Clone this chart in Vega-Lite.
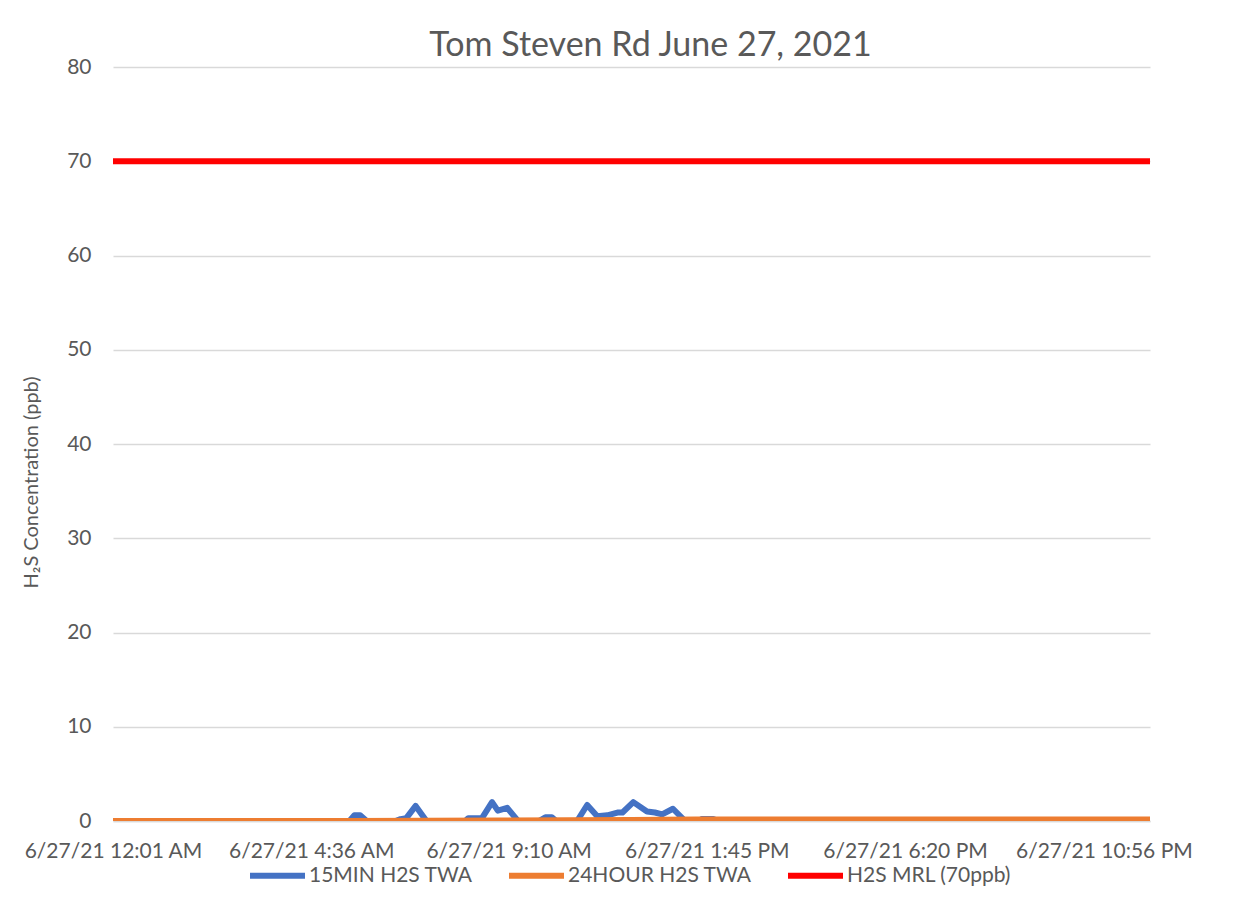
{
  "$schema": "https://vega.github.io/schema/vega-lite/v6.json",
  "autosize": "none",
  "width": 1037,
  "height": 754,
  "padding": {"left": 113, "top": 67, "right": 103, "bottom": 88},
  "background": "white",
  "title": {
    "text": "Tom Steven Rd June 27, 2021",
    "font": "Lato",
    "fontSize": 34,
    "fontWeight": "normal",
    "color": "#595959",
    "anchor": "middle",
    "baseline": "alphabetic",
    "offset": 10,
    "dx": 19,
    "dy": 44
  },
  "data": {
    "values": [
      {"t": "2021-06-27T00:01:00", "series": "15MIN H2S TWA", "v": 0},
      {"t": "2021-06-27T05:29:00", "series": "15MIN H2S TWA", "v": 0},
      {"t": "2021-06-27T05:36:00", "series": "15MIN H2S TWA", "v": 0.6},
      {"t": "2021-06-27T05:44:00", "series": "15MIN H2S TWA", "v": 0.6},
      {"t": "2021-06-27T05:53:00", "series": "15MIN H2S TWA", "v": 0},
      {"t": "2021-06-27T06:33:00", "series": "15MIN H2S TWA", "v": 0},
      {"t": "2021-06-27T06:40:00", "series": "15MIN H2S TWA", "v": 0.2},
      {"t": "2021-06-27T06:48:00", "series": "15MIN H2S TWA", "v": 0.3},
      {"t": "2021-06-27T07:01:00", "series": "15MIN H2S TWA", "v": 1.6},
      {"t": "2021-06-27T07:16:00", "series": "15MIN H2S TWA", "v": 0},
      {"t": "2021-06-27T08:10:00", "series": "15MIN H2S TWA", "v": 0},
      {"t": "2021-06-27T08:14:00", "series": "15MIN H2S TWA", "v": 0.3},
      {"t": "2021-06-27T08:33:00", "series": "15MIN H2S TWA", "v": 0.3},
      {"t": "2021-06-27T08:47:00", "series": "15MIN H2S TWA", "v": 2.0},
      {"t": "2021-06-27T08:55:00", "series": "15MIN H2S TWA", "v": 1.1},
      {"t": "2021-06-27T09:08:00", "series": "15MIN H2S TWA", "v": 1.4},
      {"t": "2021-06-27T09:23:00", "series": "15MIN H2S TWA", "v": 0},
      {"t": "2021-06-27T09:52:00", "series": "15MIN H2S TWA", "v": 0},
      {"t": "2021-06-27T10:01:00", "series": "15MIN H2S TWA", "v": 0.4},
      {"t": "2021-06-27T10:10:00", "series": "15MIN H2S TWA", "v": 0.4},
      {"t": "2021-06-27T10:16:00", "series": "15MIN H2S TWA", "v": 0},
      {"t": "2021-06-27T10:45:00", "series": "15MIN H2S TWA", "v": 0},
      {"t": "2021-06-27T10:59:00", "series": "15MIN H2S TWA", "v": 1.7},
      {"t": "2021-06-27T11:13:00", "series": "15MIN H2S TWA", "v": 0.5},
      {"t": "2021-06-27T11:27:00", "series": "15MIN H2S TWA", "v": 0.6},
      {"t": "2021-06-27T11:41:00", "series": "15MIN H2S TWA", "v": 0.9},
      {"t": "2021-06-27T11:48:00", "series": "15MIN H2S TWA", "v": 0.9},
      {"t": "2021-06-27T12:03:00", "series": "15MIN H2S TWA", "v": 2.0},
      {"t": "2021-06-27T12:22:00", "series": "15MIN H2S TWA", "v": 1.0},
      {"t": "2021-06-27T12:33:00", "series": "15MIN H2S TWA", "v": 0.9},
      {"t": "2021-06-27T12:43:00", "series": "15MIN H2S TWA", "v": 0.7},
      {"t": "2021-06-27T12:58:00", "series": "15MIN H2S TWA", "v": 1.3},
      {"t": "2021-06-27T13:15:00", "series": "15MIN H2S TWA", "v": 0},
      {"t": "2021-06-27T13:35:00", "series": "15MIN H2S TWA", "v": 0},
      {"t": "2021-06-27T13:38:00", "series": "15MIN H2S TWA", "v": 0.2},
      {"t": "2021-06-27T13:54:00", "series": "15MIN H2S TWA", "v": 0.2},
      {"t": "2021-06-27T14:01:00", "series": "15MIN H2S TWA", "v": 0},
      {"t": "2021-06-27T00:01:00", "series": "24HOUR H2S TWA", "v": 0},
      {"t": "2021-06-27T05:30:00", "series": "24HOUR H2S TWA", "v": 0},
      {"t": "2021-06-27T09:00:00", "series": "24HOUR H2S TWA", "v": 0.05},
      {"t": "2021-06-27T12:00:00", "series": "24HOUR H2S TWA", "v": 0.1},
      {"t": "2021-06-27T13:30:00", "series": "24HOUR H2S TWA", "v": 0.15},
      {"t": "2021-06-28T00:00:00", "series": "24HOUR H2S TWA", "v": 0.15},
      {"t": "2021-06-27T00:01:00", "series": "H2S MRL (70ppb)", "v": 70},
      {"t": "2021-06-28T00:00:00", "series": "H2S MRL (70ppb)", "v": 70}
    ]
  },
  "mark": {"type": "line", "strokeWidth": 6, "strokeCap": "round", "strokeJoin": "round", "clip": true},
  "encoding": {
    "x": {
      "field": "t",
      "type": "temporal",
      "scale": {
        "domain": [
          {"year": 2021, "month": 6, "date": 27, "hours": 0, "minutes": 1},
          {"year": 2021, "month": 6, "date": 28, "hours": 0, "minutes": 0}
        ]
      },
      "axis": {
        "title": null,
        "values": [
          {"year": 2021, "month": 6, "date": 27, "hours": 0, "minutes": 1},
          {"year": 2021, "month": 6, "date": 27, "hours": 4, "minutes": 36},
          {"year": 2021, "month": 6, "date": 27, "hours": 9, "minutes": 10},
          {"year": 2021, "month": 6, "date": 27, "hours": 13, "minutes": 45},
          {"year": 2021, "month": 6, "date": 27, "hours": 18, "minutes": 20},
          {"year": 2021, "month": 6, "date": 27, "hours": 22, "minutes": 56}
        ],
        "format": "%-m/%d/%y %-I:%M %p",
        "labelFont": "Lato",
        "labelFontSize": 21,
        "labelColor": "#595959",
        "labelPadding": 36,
        "labelBaseline": "alphabetic",
        "labelOverlap": false,
        "labelFlush": false,
        "labelLimit": 0,
        "ticks": false,
        "grid": false,
        "domain": true,
        "domainColor": "#D9D9D9",
        "domainWidth": 1.5
      }
    },
    "y": {
      "field": "v",
      "type": "quantitative",
      "scale": {"domain": [0, 80], "nice": false},
      "axis": {
        "title": "H₂S Concentration (ppb)",
        "titleFont": "Lato",
        "titleFontSize": 20,
        "titleFontWeight": "normal",
        "titleColor": "#595959",
        "titleX": -82,
        "titleY": 415,
        "titleAnchor": "middle",
        "titleBaseline": "middle",
        "titleAngle": -90,
        "values": [0, 10, 20, 30, 40, 50, 60, 70, 80],
        "labelFont": "Lato",
        "labelFontSize": 21,
        "labelColor": "#595959",
        "labelPadding": 22,
        "ticks": false,
        "domain": false,
        "grid": true,
        "gridColor": "#D9D9D9",
        "gridWidth": 1.5
      }
    },
    "color": {
      "field": "series",
      "type": "nominal",
      "scale": {
        "domain": ["15MIN H2S TWA", "24HOUR H2S TWA", "H2S MRL (70ppb)"],
        "range": ["#4472C4", "#ED7D31", "#FF0000"]
      },
      "legend": {
        "title": null,
        "orient": "none",
        "legendX": 134,
        "legendY": 778,
        "direction": "horizontal",
        "symbolType": "stroke",
        "symbolSize": 3025,
        "symbolStrokeWidth": 6,
        "labelFont": "Lato",
        "labelFontSize": 21,
        "labelColor": "#595959",
        "labelOffset": 1,
        "labelLimit": 0,
        "columnPadding": 24
      }
    }
  },
  "config": {"view": {"stroke": null}}
}
